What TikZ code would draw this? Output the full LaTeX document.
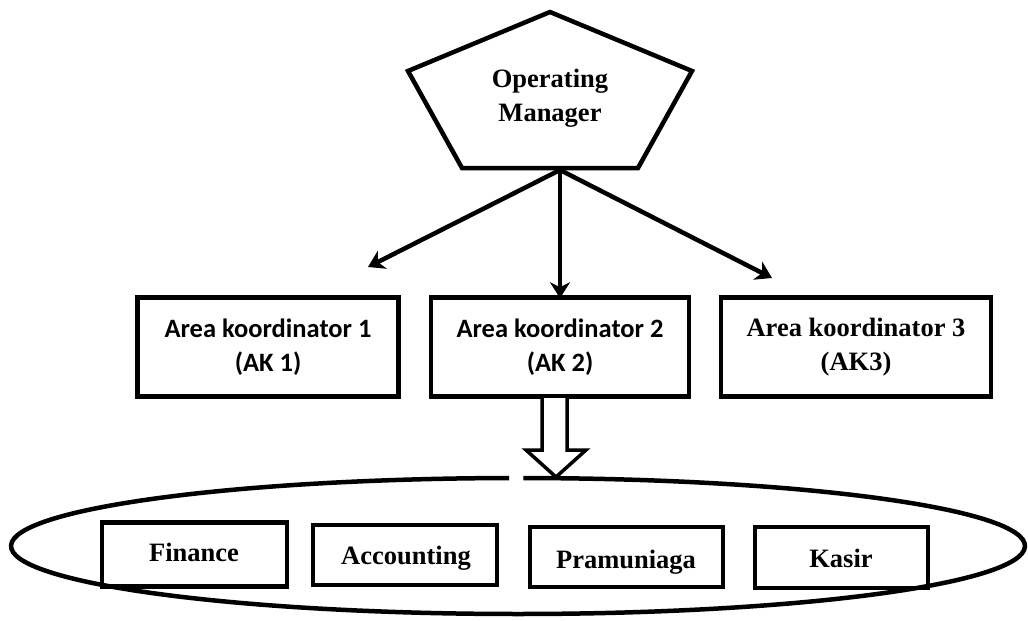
\documentclass[tikz,border=0pt]{standalone}
\usepackage{fontspec}
\setmainfont{Liberation Serif}
\newfontfamily\calib{Carlito}
\usetikzlibrary{arrows.meta}
\begin{document}
\begin{tikzpicture}[x=1pt,y=-1pt,
  box/.style={draw, line width=4.5pt, inner sep=0pt, align=center},
  conn/.style={line width=4.5pt, -{Stealth[length=16pt,width=20pt,inset=5pt]}},
  serifb/.style={font=\fontsize{26.5}{34}\selectfont\bfseries},
  calb/.style={font=\calib\fontsize{26.5}{34}\selectfont\bfseries},
  hollow/.style={draw, line width=3.5pt, fill=white, line join=miter},
  lbl/.style={serifb, anchor=base, inner sep=0pt},
]
\useasboundingbox (0,0) rectangle (1028,621);

% pentagon
\coordinate (pt) at (550,12);
\coordinate (pl) at (408,71);
\coordinate (pr) at (692,71);
\coordinate (pbl) at (462,168);
\coordinate (pbr) at (638,168);
\draw[line width=4.5pt, line join=miter] (pt) -- (pr) -- (pbr) -- (pbl) -- (pl) -- cycle;
\node[serifb, align=center, inner sep=0pt] (om) at (550,98) {Operating\\Manager};
\coordinate (o) at (560,170);

% area coordinator boxes
\node[box, calb, minimum width=261pt, minimum height=99pt] (ak1) at (268,347) {Area koordinator 1\\(AK 1)};
\node[box, calb, minimum width=258pt, minimum height=99pt] (ak2) at (560,347) {Area koordinator 2\\(AK 2)};
\node[box, serifb, minimum width=270pt, minimum height=99pt] (ak3) at (856,347) {Area koordinator 3\\(AK3)};

% arrows
\coordinate (t1) at (368,267);
\coordinate (t3) at (772,278);
\draw[conn] (o) -- (t1);
\draw[conn] (o) -- ([yshift=-3pt]ak2.north);
\draw[conn] (o) -- (t3);

% hollow block arrow
\coordinate (h1) at (542,398);
\coordinate (h2) at (567,398);
\draw[hollow] (h1) -- (542,450) -- (526,450) -- (556,477) -- (586,450) -- (567,450) -- (h2);

% ellipse with gap
\coordinate (ec) at (518,546);
\draw[line width=4.5pt] (ec) ++(270.6:507 and 68) arc[start angle=270.6, end angle=629, x radius=507, y radius=68];

% bottom boxes
\node[box, minimum width=185pt, minimum height=64pt] (fin) at (194.5,554.5) {};
\node[box, minimum width=184pt, minimum height=60pt] (acc) at (405,555) {};
\node[box, minimum width=193pt, minimum height=60pt] (pra) at (626.5,557) {};
\node[box, minimum width=173pt, minimum height=61pt] (kas) at (841.5,557.5) {};
\node[lbl] (finl) at (194,561) {Finance};
\node[lbl] (accl) at (406,564) {Accounting};
\node[lbl] (pral) at (626,568) {Pramuniaga};
\node[lbl] (kasl) at (841,567) {Kasir};
\end{tikzpicture}
\end{document}
